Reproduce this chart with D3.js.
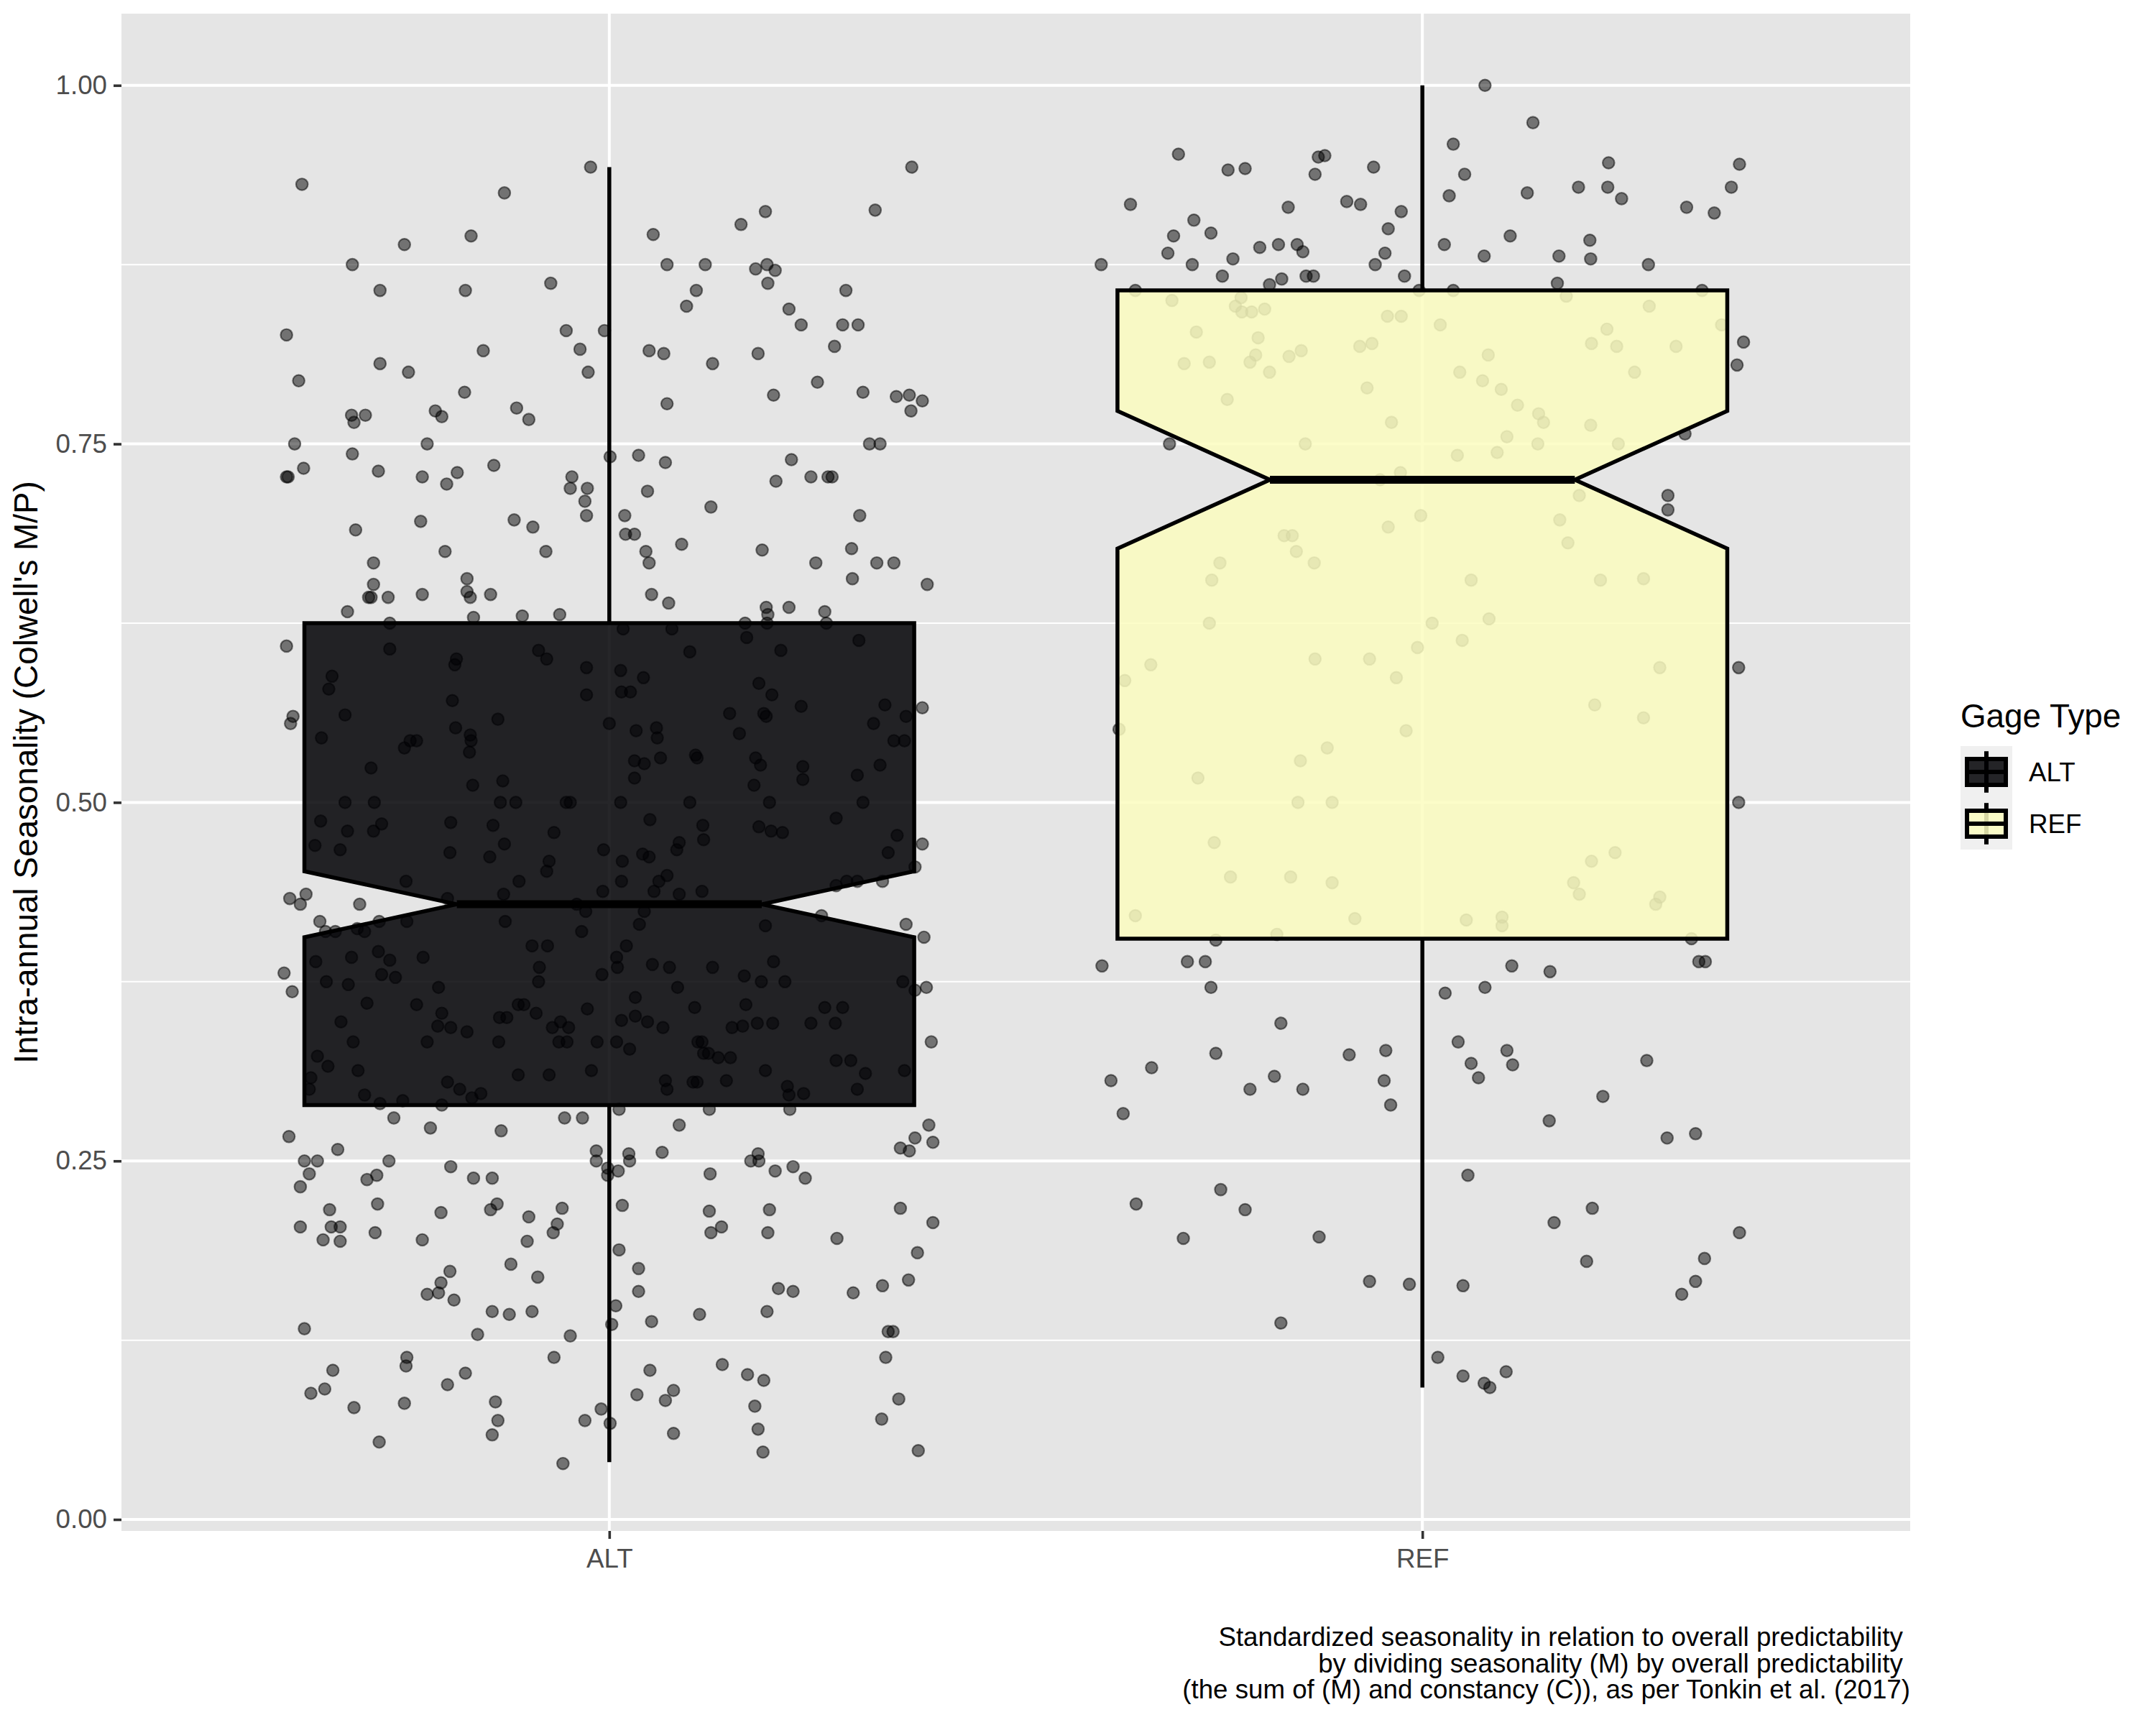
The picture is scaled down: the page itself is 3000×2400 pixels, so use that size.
<!DOCTYPE html>
<html><head><meta charset="utf-8">
<script src="https://cdn.jsdelivr.net/npm/d3@7"></script>
<style>html,body{margin:0;padding:0;background:#fff}</style>
</head><body><svg id="chart" width="3000" height="2400"></svg>
<script>
// ---------- data ----------
const categories = ["ALT", "REF"];
const whiskerLow  = [0.040, 0.092];
const hingeLow    = [0.289, 0.405];
const notchLow    = [0.406, 0.677];
const medians     = [0.429, 0.725];
const notchHigh   = [0.452, 0.773];
const hingeHigh   = [0.625, 0.857];
const whiskerHigh = [0.943, 1.000];
const yTicks = [0, 0.25, 0.5, 0.75, 1];
const yLabel = "Intra-annual Seasonality (Colwell's M/P)";
const legendTitle = "Gage Type";
const captionLines = [
  "Standardized seasonality in relation to overall predictability ",
  "by dividing seasonality (M) by overall predictability ",
  "(the sum of (M) and constancy (C)), as per Tonkin et al. (2017)"
];
// points: [value, jitter offset in category units]
const altPoints = [
[0.931,-0.378],[0.925,-0.129],[0.943,-0.023],[0.943,0.372],[0.913,0.327],[0.912,0.192],[0.903,0.162],[0.896,0.054],[0.895,-0.170],[0.889,-0.252],[0.875,-0.316],[0.875,0.071],[0.875,0.118],[0.872,0.180],[0.875,0.194],[0.871,0.204],[0.862,0.195],[0.862,-0.072],[0.857,-0.282],[0.857,-0.177],[0.857,0.107],[0.857,0.291],[0.846,0.095],[0.844,0.221],[0.833,0.236],[0.833,0.287],[0.833,0.306],[0.826,-0.397],[0.829,-0.053],[0.829,-0.006],[0.818,0.277],[0.815,-0.155],[0.816,-0.036],[0.815,0.049],[0.813,0.067],[0.813,0.183],[0.806,-0.282],[0.806,0.127],[0.800,-0.026],[0.800,-0.247],[0.794,-0.382],[0.793,0.256],[0.786,-0.178],[0.784,0.202],[0.786,0.312],[0.783,0.353],[0.784,0.369],[0.780,0.385],[0.773,0.371],[0.778,0.071],[0.775,-0.114],[0.767,-0.099],[0.770,-0.317],[0.765,-0.314],[0.770,-0.300],[0.773,-0.214],[0.769,-0.206],[0.750,-0.387],[0.750,-0.224],[0.750,0.320],[0.750,0.333],[0.743,-0.316],[0.741,0.001],[0.742,0.036],[0.737,0.069],[0.739,0.224],[0.735,-0.142],[0.727,-0.397],[0.727,-0.395],[0.733,-0.376],[0.731,-0.284],[0.727,-0.230],[0.730,-0.187],[0.722,-0.200],[0.727,-0.046],[0.719,-0.048],[0.719,-0.027],[0.710,-0.030],[0.700,-0.028],[0.717,0.047],[0.724,0.205],[0.727,0.248],[0.727,0.269],[0.727,0.274],[0.700,0.019],[0.706,0.125],[0.700,0.308],[0.690,-0.312],[0.696,-0.232],[0.697,-0.117],[0.692,-0.094],[0.687,0.020],[0.687,0.031],[0.680,0.089],[0.675,-0.202],[0.675,-0.078],[0.675,0.045],[0.667,0.049],[0.676,0.188],[0.677,0.298],[0.667,-0.290],[0.667,0.254],[0.667,0.329],[0.667,0.350],[0.656,0.299],[0.652,0.391],[0.656,-0.175],[0.652,-0.290],[0.647,-0.175],[0.643,-0.171],[0.643,-0.296],[0.643,-0.293],[0.643,-0.272],[0.645,-0.230],[0.645,-0.146],[0.645,0.052],[0.639,0.073],[0.636,0.193],[0.631,0.195],[0.636,0.221],[0.633,0.265],[0.633,-0.322],[0.630,-0.107],[0.631,-0.061],[0.629,-0.167],[0.625,-0.270],[0.625,0.167],[0.625,0.194],[0.625,0.267],[0.609,-0.397],[0.560,-0.389],[0.555,-0.392],[0.566,0.385],
[0.621,0.017],[0.621,0.077],[0.607,-0.270],[0.605,0.099],[0.615,0.169],[0.606,0.211],[0.613,0.307],[0.606,-0.087],[0.600,-0.077],[0.600,-0.188],[0.596,-0.190],[0.594,-0.028],[0.592,0.014],[0.587,0.042],[0.588,-0.341],[0.579,-0.345],[0.575,-0.028],[0.577,0.015],[0.577,0.026],[0.583,0.184],[0.575,0.200],[0.567,0.236],[0.568,0.339],[0.571,-0.193],[0.561,-0.325],[0.558,-0.137],[0.562,0.148],[0.562,0.190],[0.560,0.193],[0.560,0.365],[0.555,0.325],[0.555,0.000],[0.552,-0.189],[0.547,-0.171],[0.545,-0.354],[0.552,0.058],[0.550,0.033],[0.545,0.059],[0.548,0.160],[0.543,0.350],[0.543,0.363],[0.543,-0.245],[0.543,-0.237],[0.543,-0.170],[0.538,-0.252],[0.535,-0.172],[0.533,0.106],[0.531,0.108],[0.531,0.063],[0.529,0.031],[0.527,0.043],[0.531,0.180],[0.526,0.186],[0.525,0.238],[0.516,0.238],[0.526,0.333],[0.519,0.305],[0.524,-0.293],[0.512,-0.168],[0.515,-0.131],[0.517,0.031],[0.512,0.178],[0.500,-0.325],[0.500,-0.289],[0.500,-0.134],[0.500,-0.115],[0.500,-0.053],[0.500,-0.048],[0.500,0.014],[0.500,0.099],[0.500,0.197],[0.500,0.312],[0.487,-0.355],[0.485,-0.280],[0.486,-0.195],[0.484,-0.143],[0.488,0.050],[0.484,0.115],[0.483,0.184],[0.489,0.279],[0.480,0.199],[0.479,0.213],[0.480,-0.322],[0.480,-0.290],[0.479,-0.068],
[0.477,0.354],[0.471,0.385],[0.470,-0.362],[0.467,-0.331],[0.465,-0.196],[0.462,-0.147],[0.471,-0.129],[0.467,-0.007],[0.464,0.041],[0.462,0.049],[0.459,0.016],[0.459,-0.074],[0.452,-0.077],[0.449,0.071],[0.445,0.061],[0.438,0.055],[0.445,0.015],[0.438,-0.008],[0.445,-0.111],[0.445,-0.250],[0.436,-0.130],[0.436,0.086],[0.438,0.114],[0.467,0.083],[0.472,0.086],[0.474,0.116],[0.465,0.343],[0.455,0.376],[0.442,0.279],[0.445,0.292],[0.445,0.305],[0.445,0.336],[0.433,-0.393],[0.436,-0.373],[0.429,-0.380],[0.429,-0.307],[0.433,-0.199],[0.429,-0.040],[0.424,-0.029],[0.424,0.043],[0.421,0.261],[0.417,-0.356],[0.410,-0.349],[0.410,-0.337],[0.412,-0.310],[0.410,-0.301],[0.417,-0.283],[0.417,-0.249],[0.417,-0.128],[0.410,-0.034],[0.415,0.037],[0.414,0.192],[0.415,0.365],[0.406,0.387],[0.381,-0.400],[0.368,-0.390],[0.389,-0.361],[0.392,-0.317],[0.396,-0.284],[0.390,-0.270],[0.392,-0.229],[0.400,-0.095],[0.400,-0.076],[0.385,-0.086],[0.375,-0.087],[0.400,0.021],[0.392,0.009],[0.385,0.010],[0.380,-0.009],[0.387,0.053],[0.385,0.074],[0.385,0.127],[0.389,0.202],[0.379,0.166],[0.375,0.187],[0.375,0.216],[0.375,0.361],[0.371,0.390],[0.369,0.376],[0.375,-0.348],[0.373,-0.321],[0.380,-0.280],[0.378,-0.263],[0.371,-0.210],[0.371,0.084],[0.360,-0.298],[0.359,-0.237],[0.359,-0.112],[0.359,-0.105],[0.356,-0.027],[0.364,0.032],[0.357,0.105],[0.359,0.168],[0.357,0.265],[0.357,0.287],[0.347,-0.330],[0.353,-0.206],[0.344,-0.211],[0.343,-0.195],[0.340,-0.175],[0.350,-0.135],[0.350,-0.126],[0.353,-0.090],[0.343,-0.070],[0.347,-0.060],[0.343,-0.050],[0.348,0.015],[0.351,0.032],[0.347,0.047],[0.343,0.066],[0.343,0.151],[0.344,0.164],[0.346,0.182],[0.346,0.201],[0.346,0.248],[0.346,0.278],[0.333,-0.315],[0.333,-0.224],[0.333,-0.136],[0.333,-0.062],[0.333,-0.052],[0.333,-0.015],[0.333,0.009],[0.328,0.025],[0.333,0.109],[0.333,0.114],[0.325,0.116],[0.325,0.122],[0.322,0.134],[0.322,0.149],[0.333,0.396],[0.323,-0.359],[0.316,-0.346],[0.313,-0.309],[0.310,-0.112],[0.310,-0.074],[0.313,-0.022],[0.313,0.192],[0.320,0.279],[0.320,0.297],[0.311,0.315],[0.313,0.363],[0.308,-0.367],[0.300,-0.369],[0.296,-0.301],[0.305,-0.199],[0.300,-0.184],[0.294,-0.169],[0.297,-0.158],[0.292,-0.254],[0.290,-0.282],[0.289,-0.206],[0.306,0.069],[0.300,0.071],[0.305,0.103],[0.305,0.108],[0.306,0.144],[0.302,0.219],[0.296,0.221],[0.297,0.239],[0.300,0.305],
[0.286,0.012],[0.286,0.123],[0.286,0.222],[0.280,-0.265],[0.280,-0.055],[0.280,-0.033],[0.275,0.086],[0.275,0.393],[0.267,-0.394],[0.273,-0.220],[0.271,-0.133],[0.266,0.376],[0.263,0.398],[0.258,-0.334],[0.257,-0.016],[0.255,0.024],[0.256,0.065],[0.255,0.183],[0.259,0.358],[0.257,0.369],[0.250,-0.375],[0.250,-0.359],[0.250,-0.271],[0.250,-0.016],[0.250,0.025],[0.250,0.174],[0.250,0.184],[0.245,-0.002],[0.243,0.011],[0.240,-0.002],[0.241,-0.369],[0.246,-0.195],[0.241,0.124],[0.243,0.204],[0.246,0.226],[0.238,0.241],[0.237,-0.298],[0.240,-0.286],[0.238,-0.167],[0.238,-0.144],[0.232,-0.380],[0.216,-0.344],[0.220,-0.285],[0.214,-0.207],[0.216,-0.146],[0.220,-0.138],[0.211,-0.099],[0.217,-0.058],[0.219,0.016],[0.215,0.123],[0.216,0.197],[0.217,0.358],[0.204,-0.380],[0.204,-0.342],[0.204,-0.331],[0.195,-0.352],[0.194,-0.331],[0.200,-0.288],[0.195,-0.230],[0.194,-0.101],[0.200,-0.069],[0.206,-0.064],[0.200,0.125],[0.204,0.138],[0.200,0.195],[0.196,0.280],[0.207,0.398],[0.188,0.012],[0.186,0.379],[0.178,-0.121],[0.175,0.036],[0.173,-0.196],[0.169,-0.088],[0.167,0.368],[0.165,-0.207],[0.157,-0.224],[0.158,-0.210],[0.153,-0.191],[0.159,0.036],[0.161,0.208],[0.159,0.226],[0.158,0.300],[0.163,0.336],[0.149,0.008],[0.145,-0.144],[0.143,-0.123],[0.145,-0.095],[0.143,0.111],[0.145,0.194],[0.136,0.003],[0.138,0.052],[0.133,-0.375],[0.129,-0.162],[0.128,-0.048],[0.131,0.343],[0.131,0.349],[0.113,-0.249],[0.107,-0.250],[0.104,-0.340],[0.113,-0.068],[0.108,0.139],[0.113,0.340],[0.102,-0.177],[0.104,0.050],[0.101,0.170],[0.097,0.190],[0.091,-0.350],[0.088,-0.367],[0.094,-0.199],[0.087,0.034],[0.083,0.069],[0.090,0.079],[0.084,0.356],[0.078,-0.314],[0.081,-0.252],[0.082,-0.140],[0.069,-0.137],[0.059,-0.144],[0.077,-0.010],[0.067,0.001],[0.069,-0.030],[0.079,0.179],[0.063,0.183],[0.060,0.079],[0.070,0.335],[0.054,-0.283],[0.047,0.189],[0.048,0.380],[0.039,-0.057]
];
const refPoints = [
[1.000,0.077],[0.974,0.136],[0.959,0.038],[0.952,-0.300],[0.950,-0.128],[0.951,-0.120],[0.941,-0.239],[0.942,-0.218],[0.943,-0.060],[0.938,-0.132],[0.938,0.052],[0.946,0.229],[0.945,0.390],[0.929,0.380],[0.925,0.129],[0.929,0.192],[0.929,0.228],[0.921,0.245],[0.923,0.033],[0.917,-0.359],[0.915,-0.165],[0.919,-0.093],[0.917,-0.076],[0.912,-0.026],[0.915,0.325],[0.911,0.359],[0.906,-0.281],[0.900,-0.042],[0.895,-0.306],[0.897,-0.260],[0.895,0.108],[0.887,-0.200],[0.889,-0.177],[0.889,-0.154],[0.884,-0.147],[0.889,0.027],[0.892,0.206],[0.883,-0.313],[0.879,-0.233],[0.883,-0.046],[0.881,0.076],[0.881,0.168],[0.879,0.207],[0.875,-0.395],[0.875,-0.283],[0.875,-0.058],[0.875,0.278],[0.867,-0.246],[0.861,-0.188],[0.865,-0.173],[0.867,-0.143],[0.867,-0.134],[0.867,-0.022],[0.862,0.166],[0.857,-0.353],[0.857,-0.004],[0.857,0.038],[0.857,0.344],
[0.850,-0.308],[0.852,-0.223],[0.846,-0.230],[0.842,-0.222],[0.842,-0.210],[0.844,-0.194],[0.853,0.177],[0.846,0.279],[0.839,-0.043],[0.839,-0.026],[0.833,0.022],[0.833,0.368],[0.828,-0.278],[0.824,-0.202],[0.830,0.227],[0.821,0.395],[0.818,-0.077],[0.820,-0.062],[0.820,0.208],[0.818,0.239],[0.818,0.312],[0.812,-0.205],[0.815,-0.149],[0.812,0.081],[0.811,-0.164],[0.806,-0.293],[0.807,-0.262],[0.807,-0.212],[0.805,0.387],[0.800,-0.188],[0.800,0.046],[0.800,0.261],[0.794,0.074],[0.789,-0.068],[0.788,0.097],[0.781,-0.240],[0.777,0.117],[0.771,0.143],[0.765,-0.038],[0.765,0.149],[0.763,0.207],[0.757,0.323],[0.750,-0.311],[0.750,-0.144],[0.755,0.104],[0.750,0.142],[0.750,0.241],[0.742,0.043],[0.744,0.092],[0.730,-0.027],[0.725,-0.052],[0.714,0.193],[0.714,0.302],[0.704,0.302],[0.700,-0.002],[0.697,0.169],[0.692,-0.042],[0.686,-0.170],[0.686,-0.160],[0.681,0.179],[0.675,-0.155],[0.667,-0.249],[0.667,-0.133],[0.655,-0.259],[0.655,0.060],[0.655,0.219],[0.656,0.272],[0.625,-0.262],[0.625,0.012],[0.628,0.082],[0.613,0.049],[0.608,-0.006],[0.600,-0.132],[0.600,-0.065],[0.596,-0.334],[0.594,0.292],[0.594,0.389],[0.585,-0.366],[0.587,-0.032],[0.568,0.212],[0.559,0.272],[0.551,-0.373],[0.550,-0.020],[0.538,-0.117],[0.529,-0.150],
[0.517,-0.276],[0.500,-0.153],[0.500,-0.111],[0.500,0.389],[0.472,-0.256],[0.448,-0.236],[0.448,-0.162],[0.444,-0.111],[0.459,0.208],[0.465,0.237],[0.444,0.186],[0.436,0.193],[0.434,0.292],[0.429,0.287],[0.421,-0.353],[0.419,-0.083],[0.418,0.054],[0.420,0.098],[0.414,0.098],[0.404,-0.254],[0.408,-0.179],[0.405,0.331],
[0.386,-0.394],[0.389,-0.289],[0.389,-0.267],[0.389,0.340],[0.389,0.348],[0.386,0.110],[0.382,0.157],[0.371,-0.260],[0.371,0.077],[0.367,0.028],[0.346,-0.174],[0.333,0.044],[0.325,-0.254],[0.324,-0.090],[0.327,-0.045],[0.327,0.104],[0.320,0.276],[0.315,-0.333],[0.318,0.060],[0.317,0.111],[0.306,-0.383],[0.309,-0.182],[0.306,-0.047],[0.308,0.069],[0.300,-0.212],[0.300,-0.147],[0.289,-0.039],[0.295,0.222],[0.283,-0.368],[0.278,0.156],[0.266,0.301],[0.269,0.336],[0.240,0.056],[0.230,-0.248],[0.220,-0.352],[0.216,-0.218],[0.217,0.209],[0.207,0.162],[0.200,0.390],[0.196,-0.294],[0.197,-0.127],[0.180,0.202],[0.182,0.347],[0.166,-0.065],[0.164,-0.016],[0.163,0.050],[0.166,0.336],[0.157,0.319],[0.137,-0.174],[0.113,0.019],[0.100,0.050],[0.103,0.103],[0.095,0.076],[0.092,0.083]
];
const pointSets = [altPoints, refPoints];

// ---------- styles ----------
const FONT = "'Liberation Sans', Arial, Helvetica, sans-serif";
const fills = ["#000004", "#FCFDBF"];
const fillOpacity = 0.85;
const panelBg = "#E5E5E5";
const keyBg = "#F0F0F0";

// ---------- layout ----------
const P = {l: 169, r: 2658, t: 19, b: 2130};
const svg = d3.select("#chart");
const y = d3.scaleLinear().domain([-0.008, 1.05]).range([P.b, P.t]);
const x = d3.scalePoint().domain(categories).range([P.l, P.r]).padding(0.6);
const step = x.step();

svg.append("rect").attr("x", P.l).attr("y", P.t).attr("width", P.r - P.l).attr("height", P.b - P.t).attr("fill", panelBg);

const minorTicks = d3.pairs(yTicks).map(([a, b]) => (a + b) / 2);
svg.append("g").selectAll("line").data(minorTicks).join("line")
  .attr("x1", P.l).attr("x2", P.r).attr("y1", d => y(d)).attr("y2", d => y(d))
  .attr("stroke", "#fff").attr("stroke-width", 2);
svg.append("g").selectAll("line").data(yTicks).join("line")
  .attr("x1", P.l).attr("x2", P.r).attr("y1", d => y(d)).attr("y2", d => y(d))
  .attr("stroke", "#fff").attr("stroke-width", 4);
svg.append("g").selectAll("line").data(categories).join("line")
  .attr("y1", P.t).attr("y2", P.b).attr("x1", d => x(d)).attr("x2", d => x(d))
  .attr("stroke", "#fff").attr("stroke-width", 4);

// jittered points
categories.forEach((c, i) => {
  svg.append("g").selectAll("circle").data(pointSets[i]).join("circle")
    .attr("cx", d => x(c) + d[1] * step)
    .attr("cy", d => y(d[0]))
    .attr("r", 8.2)
    .attr("fill", "#000").attr("fill-opacity", 0.5)
    .attr("stroke", "#000").attr("stroke-opacity", 0.5).attr("stroke-width", 2.2);
});

// boxplots
const half = 0.375 * step;
const indent = 0.5 * half;
categories.forEach((c, i) => {
  const cx = x(c), x0 = cx - half, x1 = cx + half;
  const g = svg.append("g");
  g.append("line").attr("x1", cx).attr("x2", cx).attr("y1", y(hingeHigh[i])).attr("y2", y(whiskerHigh[i]))
    .attr("stroke", "#000").attr("stroke-width", 5.5);
  g.append("line").attr("x1", cx).attr("x2", cx).attr("y1", y(hingeLow[i])).attr("y2", y(whiskerLow[i]))
    .attr("stroke", "#000").attr("stroke-width", 5.5);
  const pts = [
    [x0, y(hingeHigh[i])], [x0, y(notchHigh[i])], [x0 + indent, y(medians[i])], [x0, y(notchLow[i])],
    [x0, y(hingeLow[i])], [x1, y(hingeLow[i])], [x1, y(notchLow[i])], [x1 - indent, y(medians[i])],
    [x1, y(notchHigh[i])], [x1, y(hingeHigh[i])]
  ];
  g.append("path").attr("d", d3.line()(pts) + "Z")
    .attr("fill", fills[i]).attr("fill-opacity", fillOpacity)
    .attr("stroke", "#000").attr("stroke-width", 5.5).attr("stroke-linejoin", "miter");
  g.append("line").attr("x1", x0 + indent).attr("x2", x1 - indent).attr("y1", y(medians[i])).attr("y2", y(medians[i]))
    .attr("stroke", "#000").attr("stroke-width", 11);
});

// axes
const yAxis = svg.append("g").attr("transform", `translate(${P.l},0)`)
  .call(d3.axisLeft(y).tickValues(yTicks).tickFormat(d3.format(".2f")).tickSize(11).tickPadding(9));
const xAxis = svg.append("g").attr("transform", `translate(0,${P.b})`)
  .call(d3.axisBottom(x).tickSize(11).tickPadding(14));
[yAxis, xAxis].forEach(a => {
  a.select(".domain").remove();
  a.selectAll(".tick line").attr("stroke", "#333333").attr("stroke-width", 3.6);
  a.selectAll(".tick text").attr("fill", "#4D4D4D").attr("font-size", 36.7).attr("font-family", FONT);
});

// y label
svg.append("text").attr("transform", `translate(52,${(P.t + P.b) / 2}) rotate(-90)`)
  .attr("text-anchor", "middle").attr("font-size", 45.8).attr("font-family", FONT).attr("fill", "#000")
  .text(yLabel);

// legend
const L = {x: 2728, y: 1038, k: 72};
svg.append("text").attr("x", L.x).attr("y", 1012).attr("font-size", 45.8).attr("font-family", FONT).text(legendTitle);
categories.forEach((c, i) => {
  const g = svg.append("g").attr("transform", `translate(${L.x},${L.y + i * L.k})`);
  const k = L.k;
  g.append("rect").attr("width", k).attr("height", k).attr("fill", keyBg);
  g.append("line").attr("x1", k / 2).attr("x2", k / 2).attr("y1", k * 0.1).attr("y2", k * 0.9)
    .attr("stroke", "#000").attr("stroke-width", 6);
  g.append("rect").attr("x", k * 0.125).attr("y", k * 0.25).attr("width", k * 0.75).attr("height", k * 0.5)
    .attr("fill", fills[i]).attr("fill-opacity", fillOpacity).attr("stroke", "#000").attr("stroke-width", 6);
  g.append("line").attr("x1", k * 0.125).attr("x2", k * 0.875).attr("y1", k / 2).attr("y2", k / 2)
    .attr("stroke", "#000").attr("stroke-width", 6);
  g.append("text").attr("x", k + 23).attr("y", k / 2 + 13).attr("font-size", 36.7).attr("font-family", FONT)
    .attr("fill", "#000").text(c);
});

// caption
svg.append("g").selectAll("text").data(captionLines).join("text")
  .attr("x", P.r).attr("y", (d, i) => 2290 + i * 36.5)
  .attr("text-anchor", "end").attr("font-size", 36.7).attr("font-family", FONT)
  .style("white-space", "pre").attr("fill", "#000").text(d => d);
</script>
</body></html>
